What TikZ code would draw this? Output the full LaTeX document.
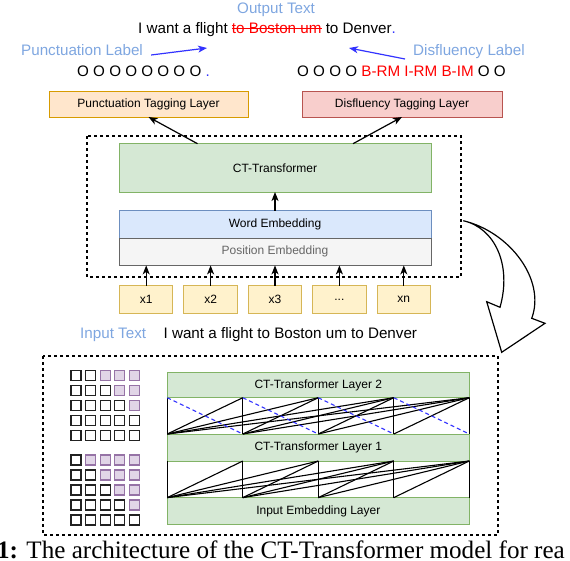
\documentclass[tikz,border=0pt]{standalone}
\usepackage{fontspec}
\setmainfont{Liberation Sans}
\newfontfamily\capfont{Liberation Serif}
\usepackage{xcolor}
\usepackage{tikz}
\usetikzlibrary{arrows.meta,positioning,calc}
\definecolor{Ink}{HTML}{222222}
\definecolor{LabelBlue}{HTML}{7EA6E0}
\definecolor{ArrowBlue}{HTML}{3333FF}
\definecolor{TagRed}{HTML}{FF0000}
\definecolor{Orange}{HTML}{D79B00}
\definecolor{OrangeSoft}{HTML}{FFE6CC}
\definecolor{Rose}{HTML}{B85450}
\definecolor{RoseSoft}{HTML}{F8CECC}
\definecolor{Green}{HTML}{82B366}
\definecolor{GreenSoft}{HTML}{D5E8D4}
\definecolor{Blue}{HTML}{6C8EBF}
\definecolor{BlueSoft}{HTML}{DAE8FC}
\definecolor{Grey}{HTML}{666666}
\definecolor{GreySoft}{HTML}{F5F5F5}
\definecolor{Yellow}{HTML}{D6B656}
\definecolor{YellowSoft}{HTML}{FFF2CC}
\definecolor{Purple}{HTML}{9673A6}
\definecolor{PurpleSoft}{HTML}{E1D5E7}
\newcommand{\StrikeText}[1]{\setbox0\hbox{#1}\rlap{\rule[0.3em]{\wd0}{1.1pt}}\box0}
\newcommand{\BigLabelSize}{\fontsize{15.2}{18}\selectfont}
\newcommand{\BoxLabelSize}{\fontsize{12}{14}\selectfont}
\tikzset{
  layer/.style={draw,line width=1pt,inner sep=0pt,outer sep=0pt,align=center,font=\BoxLabelSize},
  tagorange/.style={layer,draw=Orange,fill=OrangeSoft,minimum width=199pt,minimum height=26pt},
  tagrose/.style={layer,draw=Rose,fill=RoseSoft,minimum width=200pt,minimum height=26pt},
  greenlayer/.style={layer,draw=Green,fill=GreenSoft,minimum width=302pt},
  embblue/.style={layer,draw=Blue,fill=BlueSoft,minimum width=312pt,minimum height=27.7pt},
  embgrey/.style={layer,draw=Grey,fill=GreySoft,text=Grey,minimum width=312pt,minimum height=27.1pt},
  inbox/.style={layer,draw=Yellow,fill=YellowSoft,minimum width=53.5pt,minimum height=28pt},
  textline/.style={anchor=base west,inner sep=0pt,font=\BigLabelSize},
  headline/.style={textline,text=LabelBlue},
  arrow/.style={-{Stealth[length=9pt,width=7pt,inset=2.5pt]},line width=1.2pt,draw=black},
  bluearrow/.style={arrow,draw=ArrowBlue},
  dashframe/.style={draw=black,dash pattern=on 3pt off 3pt,line width=1.2pt},
  cell/.style={line width=1.2pt},
  link/.style={draw=black,line width=1.1pt},
  skiplink/.style={draw=ArrowBlue,dash pattern=on 4pt off 3pt,line width=1.1pt},
  bigarrow/.style={draw=black,fill=white,line width=1.2pt,line join=miter}
}
\begin{document}
\begin{tikzpicture}[x=1pt,y=-1pt]
  \useasboundingbox (0,0) rectangle (570,560);
  % output side
  \node[headline] (outtitle) at (237,13) {Output Text};
  \node[textline] (outtext) at (138,33.3) {I want a flight \textcolor{TagRed}{\StrikeText{to Boston um}} to Denver\textcolor{ArrowBlue}{.}};
  \node[headline] (punclabel) at (21,55) {Punctuation Label};
  \node[headline] (disflabel) at (413,55) {Disfluency Label};
  \coordinate (puncend) at (207,48);
  \coordinate (disfend) at (349,48);
  \draw[bluearrow] ([xshift=8pt]punclabel.base east) -- (puncend);
  \draw[bluearrow] ($(disflabel.base west)+(-8,4)$) -- (disfend);
  \node[textline] (punctags) at (77,76) {O O O O O O O O \textcolor{ArrowBlue}{.}};
  \node[textline] (disftags) at (297,76) {O O O O \textcolor{TagRed}{B-RM I-RM B-IM} O O};
  \node[tagorange] (punclayer) at (148.5,104) {Punctuation Tagging Layer};
  \node[tagrose] (disflayer) at (402,104) {Disfluency Tagging Layer};
  % encoder
  \draw[dashframe] (87,136) rectangle (461,277);
  \node[embblue] (wordemb) at (275,224.45) {Word Embedding};
  \node[embgrey,below=0pt of wordemb] (posemb) {Position Embedding};
  \node[greenlayer,minimum width=312pt,minimum height=48.3pt,above=18.6pt of wordemb] (ctbox) {CT-Transformer};
  \draw[arrow] (wordemb) -- (ctbox);
  \draw[arrow] ([xshift=-77.5pt]ctbox.north) -- (punclayer.south);
  \draw[arrow] ([xshift=78pt]ctbox.north) -- (disflayer.south);
  \node[inbox] (x1) at (146.2,299.6) {x1};
  \node[inbox,right=10.9pt of x1] (x2) {x2};
  \node[inbox,right=10.9pt of x2] (x3) {x3};
  \node[inbox,right=10.9pt of x3] (xdots) {...};
  \node[inbox,right=10.9pt of xdots] (xn) {xn};
  \foreach \tok in {x1,x2,x3,xdots,xn}
    \draw[arrow] (\tok) -- (\tok |- posemb.south);
  \node[headline] (intitle) at (80,338) {Input Text};
  \node[textline] (intext) at (163.4,338) {I want a flight to Boston um to Denver};
  % zoomed view of the layers
  \draw[bigarrow] (463.3,220.7) .. controls (495,228) and (512,265) .. (500,307.3)
    -- (486.7,301.7) -- (501.7,352.3) -- (545,323.3) -- (531.7,318.3)
    .. controls (546,280) and (510,232) .. cycle;
  \draw[dashframe] (43,356) rectangle (498,535);
  \foreach \top/\shift in {370.7/1,455/0}{
    \foreach \r in {1,...,5}{
      \foreach \c in {1,...,5}{
        \ifnum\c>\numexpr\r+\shift\relax
          \def\cellfill{PurpleSoft}\def\celldraw{Purple}%
        \else
          \def\cellfill{white}\def\celldraw{Ink}%
        \fi
        \draw[cell,draw=\celldraw,fill=\cellfill] ({71+(\c-1)*14.6},{\top+(\r-1)*15}) rectangle ++(10,10);
      }
    }
  }
  \node[greenlayer,minimum height=25pt] (layertwo) at (318.3,385.2) {CT-Transformer Layer 2};
  \node[greenlayer,minimum height=27pt,below=36.3pt of layertwo] (layerone) {CT-Transformer Layer 1};
  \node[greenlayer,minimum height=27.3pt,below=36.6pt of layerone] (inputlayer) {Input Embedding Layer};
  \foreach \lo/\hi in {layerone/layertwo,inputlayer/layerone}
    \foreach \i in {0,...,4}
      \foreach \j in {\i,...,4}
        \draw[link] ($(\lo.north west)!\i/4!(\lo.north east)$) -- ($(\hi.south west)!\j/4!(\hi.south east)$);
  \foreach \i/\k in {0/1,1/2,2/3,3/4}
    \draw[skiplink] ($(layertwo.south west)!\i/4!(layertwo.south east)$) -- ($(layerone.north west)!\k/4!(layerone.north east)$);
  % caption
  \node[anchor=base west,inner sep=0pt,font=\capfont\fontsize{25.1}{30}\selectfont] (caption) at (-3,558) {\textbf{1:} The architecture of the CT-Transformer model for rea};
\end{tikzpicture}
\end{document}
